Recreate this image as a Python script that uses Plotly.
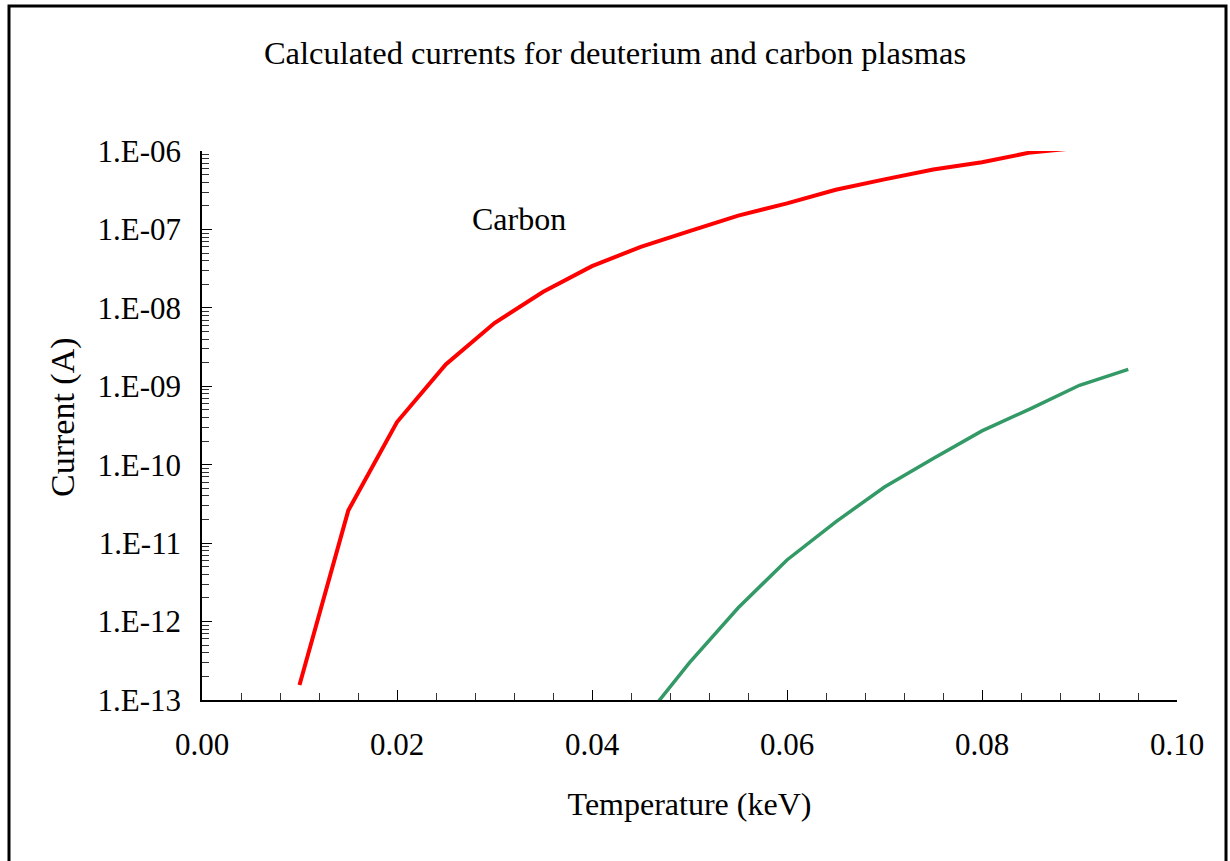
import plotly.graph_objects as go

# Temperature grid (keV) and calculated currents (A)
carbon_temp = [0.010, 0.015, 0.020, 0.025, 0.030, 0.035, 0.040, 0.045, 0.050,
               0.055, 0.060, 0.065, 0.070, 0.075, 0.080, 0.085, 0.090]
carbon_current = [1.55e-13, 2.6e-11, 3.5e-10, 1.9e-9, 6.4e-9, 1.6e-8, 3.4e-8, 6.0e-8, 9.5e-8,
                  1.5e-7, 2.15e-7, 3.2e-7, 4.35e-7, 5.8e-7, 7.2e-7, 9.6e-7, 1.1e-6]

deuterium_temp = [0.045, 0.050, 0.055, 0.060, 0.065, 0.070, 0.075, 0.080, 0.085, 0.090, 0.095]
deuterium_current = [5.0e-14, 3.0e-13, 1.5e-12, 6.1e-12, 1.87e-11, 5.2e-11, 1.2e-10,
                     2.7e-10, 5.2e-10, 1.03e-9, 1.64e-9]

y_tick_values = [1e-13, 1e-12, 1e-11, 1e-10, 1e-9, 1e-8, 1e-7, 1e-6]
y_tick_labels = ["1.E-13", "1.E-12", "1.E-11", "1.E-10", "1.E-09", "1.E-08", "1.E-07", "1.E-06"]

FONT = "Liberation Serif, Times New Roman, serif"
W, H = 1230, 861
ML, MR, MT, MB = 202, 53, 151, 161
PW, PH = W - ML - MR, H - MT - MB


def px_to_paper_x(px):
    return (px - ML) / PW


def px_to_paper_y(py):
    return (H - MB - py) / PH


fig = go.Figure()

fig.add_trace(go.Scatter(
    x=carbon_temp, y=carbon_current, mode="lines",
    line=dict(color="#FF0000", width=4), name="Carbon", showlegend=False,
))
fig.add_trace(go.Scatter(
    x=deuterium_temp, y=deuterium_current, mode="lines",
    line=dict(color="#339966", width=3.5), name="Deuterium", showlegend=False,
))

fig.add_annotation(
    x=0.0325, y=-6.87, xref="x", yref="y",
    text="Carbon", showarrow=False,
    font=dict(family=FONT, size=32, color="black"),
    xanchor="center", yanchor="middle",
)

# vertical axis title, placed beside the tick labels
fig.add_annotation(
    x=px_to_paper_x(63), y=px_to_paper_y(417), xref="paper", yref="paper",
    text="Current (A)", textangle=-90, showarrow=False,
    font=dict(family=FONT, size=34, color="black"),
    xanchor="center", yanchor="middle",
)

# outer chart frame
fig.add_shape(
    type="rect", xref="paper", yref="paper",
    x0=px_to_paper_x(9), x1=px_to_paper_x(1226),
    y0=px_to_paper_y(875), y1=px_to_paper_y(6),
    line=dict(color="black", width=3), fillcolor="rgba(0,0,0,0)", layer="above",
)

fig.update_layout(
    width=W, height=H,
    margin=dict(l=ML, r=MR, t=MT, b=MB, pad=0),
    paper_bgcolor="white", plot_bgcolor="white",
    font=dict(family=FONT, color="black"),
    title=dict(
        text="Calculated currents for deuterium and carbon plasmas",
        font=dict(family=FONT, size=32.5, color="black"),
        x=0.5, xref="container", xanchor="center",
        y=(H - 64) / H, yref="container", yanchor="bottom",
    ),
    showlegend=False,
)

fig.update_xaxes(
    range=[0, 0.1], tick0=0, dtick=0.02, tickformat=".2f",
    showgrid=False, zeroline=False,
    showline=True, linecolor="black", linewidth=1.5,
    ticks="inside", ticklen=10, tickwidth=1.2, tickcolor="black",
    minor=dict(dtick=0.004, tick0=0, ticks="inside", ticklen=7, tickwidth=1, tickcolor="#333", showgrid=False),
    tickfont=dict(family=FONT, size=31, color="black"),
    ticklabelstandoff=16,
    title=dict(text="Temperature (keV)", font=dict(family=FONT, size=32, color="black"), standoff=32),
)

fig.update_yaxes(
    type="log", range=[-13, -6],
    tickvals=y_tick_values, ticktext=y_tick_labels,
    showgrid=False, zeroline=False,
    showline=True, linecolor="black", linewidth=1.5,
    ticks="inside", ticklen=10, tickwidth=1.2, tickcolor="black",
    minor=dict(dtick="D1", ticks="inside", ticklen=7, tickwidth=1, tickcolor="#333", showgrid=False),
    tickfont=dict(family=FONT, size=31, color="black"),
    ticklabelstandoff=13,
)

fig.write_html("out.html")
